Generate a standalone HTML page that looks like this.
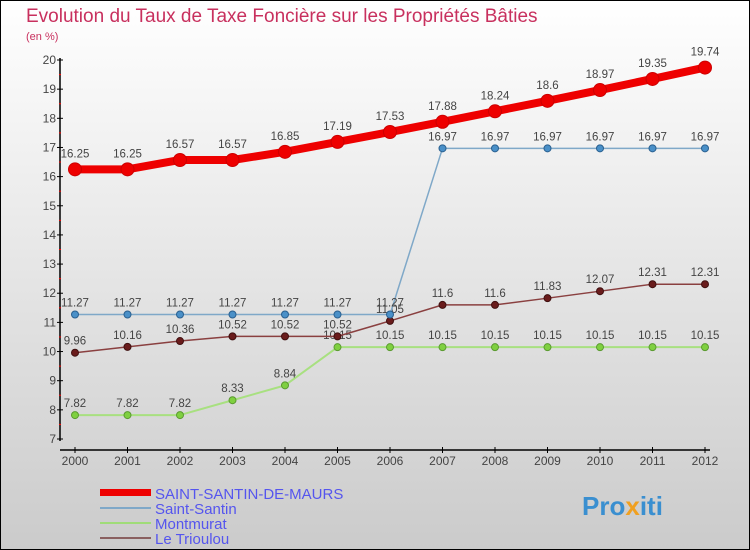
<!DOCTYPE html>
<html><head><meta charset="utf-8"><style>
body{margin:0;width:750px;height:550px;overflow:hidden}
svg{display:block;font-family:"Liberation Sans",sans-serif}
</style></head><body>
<svg id="c" width="750" height="550" xmlns="http://www.w3.org/2000/svg">
<defs><linearGradient id="bg" x1="0" y1="0" x2="0" y2="1"><stop offset="0" stop-color="#ffffff"/><stop offset="1" stop-color="#cbcbcb"/></linearGradient></defs>
<rect x="0.5" y="0.5" width="749" height="549" fill="url(#bg)" stroke="#000"/>
<text x="26" y="22" font-size="19" fill="#c8305e">Evolution du Taux de Taxe Foncière sur les Propriétés Bâties</text>
<text x="26" y="40" font-size="11" fill="#c8305e">(en %)</text>
<g id="axes"></g><g id="series"></g>
<g>
<rect x="100" y="489" width="51" height="7" fill="#e00"/>
<text x="155" y="499" font-size="15" fill="#5555ee">SAINT-SANTIN-DE-MAURS</text>
<rect x="100" y="507" width="51" height="2" fill="#7fa8c8"/>
<text x="155" y="514" font-size="15" fill="#5555ee">Saint-Santin</text>
<rect x="100" y="522" width="51" height="2" fill="#a0dc78"/>
<text x="155" y="529" font-size="15" fill="#5555ee">Montmurat</text>
<rect x="100" y="537" width="51" height="2" fill="#8a6060"/>
<text x="155" y="544" font-size="15" fill="#5555ee">Le Trioulou</text>
</g>
<text x="582" y="515" font-size="26" font-weight="bold"><tspan fill="#3a8fd0">Pro</tspan><tspan fill="#f0a020">x</tspan><tspan fill="#3a8fd0">iti</tspan></text>
</svg>
<script>
const years=[2000,2001,2002,2003,2004,2005,2006,2007,2008,2009,2010,2011,2012];
const yTicks=[7,8,9,10,11,12,13,14,15,16,17,18,19,20];
const mainVals=[16.25,16.25,16.57,16.57,16.85,17.19,17.53,17.88,18.24,18.6,18.97,19.35,19.74];
const ssVals=[11.27,11.27,11.27,11.27,11.27,11.27,11.27,16.97,16.97,16.97,16.97,16.97,16.97];
const montVals=[7.82,7.82,7.82,8.33,8.84,10.15,10.15,10.15,10.15,10.15,10.15,10.15,10.15];
const triVals=[9.96,10.16,10.36,10.52,10.52,10.52,11.05,11.6,11.6,11.83,12.07,12.31,12.31];
const NS="http://www.w3.org/2000/svg";
const X=i=>75+i*52.5;
const Y=v=>439-(v-7)*(379/13);
function mk(tag,attrs,parent){const e=document.createElementNS(NS,tag);for(const k in attrs)e.setAttribute(k,attrs[k]);parent.appendChild(e);return e;}
const ax=document.getElementById('axes');
let l=mk('line',{x1:60,y1:58,x2:60,y2:441,stroke:'#000','stroke-width':1.5},ax);


l=mk('line',{x1:60,y1:450,x2:710,y2:450,stroke:'#000','stroke-width':1.5},ax);


yTicks.forEach(v=>{
 mk('line',{x1:57,y1:Y(v),x2:63,y2:Y(v),stroke:'#000'},ax);
 if(v<20)mk('line',{x1:59,y1:Y(v+0.5),x2:61,y2:Y(v+0.5),stroke:'#f00'},ax);
 const t=mk('text',{x:56,y:Y(v)+4,'text-anchor':'end','font-size':12,fill:'#444'},ax);t.textContent=v;
 
 
});
years.forEach((yr,i)=>{
 mk('line',{x1:X(i),y1:447,x2:X(i),y2:453,stroke:'#000'},ax);
 const t=mk('text',{x:X(i),y:465,'text-anchor':'middle','font-size':12,fill:'#444'},ax);t.textContent=yr;
 
 
});
const sg=document.getElementById('series');
function series(vals,color,dot,dotStroke,w,r,name,labelDy){
 const g=mk('g',{},sg);
 
 
 mk('polyline',{points:vals.map((v,i)=>X(i)+','+Y(v)).join(' '),fill:'none',stroke:color,'stroke-width':w,'stroke-linejoin':'round'},g);
 vals.forEach((v,i)=>{
  const c=mk('circle',{cx:X(i),cy:Y(v),r:r,fill:dot,stroke:dotStroke,'stroke-width':1},g);
  
  
  const t=mk('text',{x:X(i),y:Y(v)+labelDy,'text-anchor':'middle','font-size':11.5,fill:'#444'},g);t.textContent=v;
  
  
 });
}
series(montVals,'#a8e080','#7fd040','#5a9a30',2,3.5,'montmurat-series',-8);
series(triVals,'#8a4040','#6a1c1c','#401010',1.5,3.5,'le-trioulou-series',-8);
series(ssVals,'#7fa8c8','#4a90c8','#2a6090',1.5,3.5,'saint-santin-series',-8);
series(mainVals,'#ee0000','#ee0000','#cc0000',8,6.5,'saint-santin-de-maurs-series',-12);
</script>
</body></html>
